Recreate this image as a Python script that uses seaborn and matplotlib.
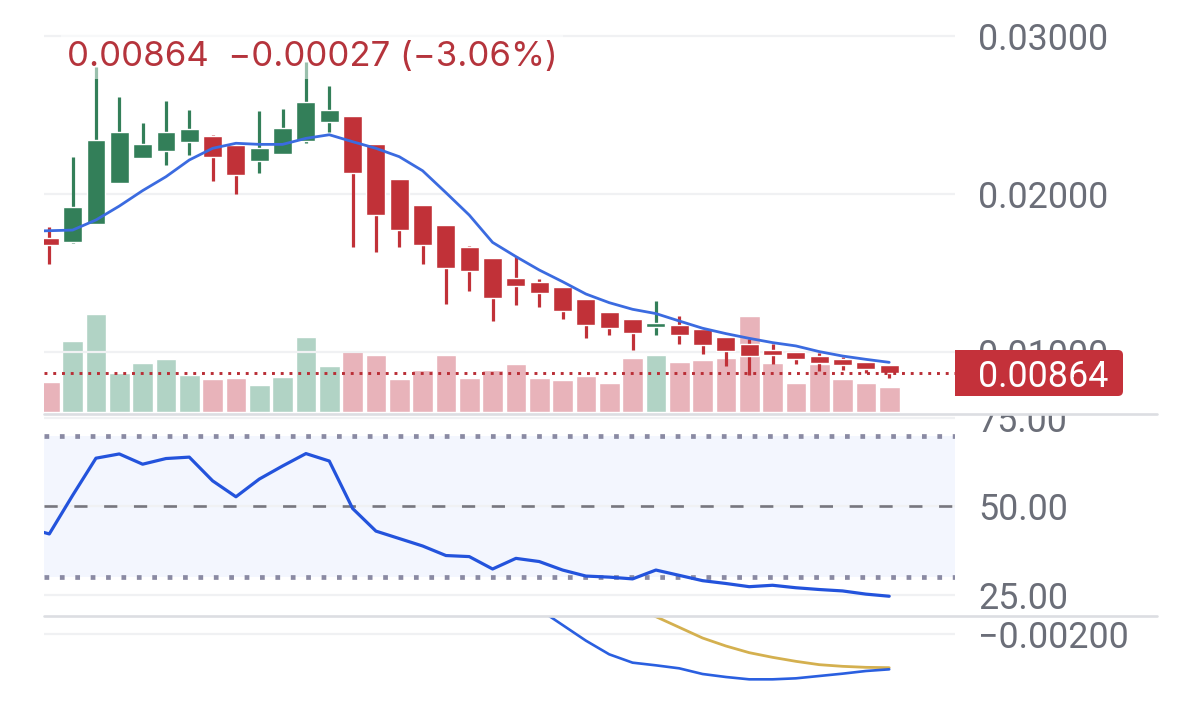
import numpy as np
import pandas as pd
import seaborn as sns
import matplotlib
matplotlib.use("Agg")
import matplotlib.pyplot as plt
from matplotlib.lines import Line2D
from matplotlib.patches import FancyBboxPatch, Rectangle
from matplotlib.transforms import Bbox, IdentityTransform

# ---------- data ----------
opens = [.01723,.01698,.01809,.02071,.02228,.02274,.02331,.02369,.02308,.02211,.02251,.02337,.02458,.02496,.02316,
         .02092,.01932,.01803,.01666,.01592,.01470,.01442,.01413,.01337,.01250,.01206,.01160,.01168,.01142,.01094,
         .01047,.01013,.00997,.00973,.00954,.00933,.00916]
closes = [.01674,.01919,.02342,.02392,.02316,.02392,.02409,.02236,.02118,.02289,.02420,.02582,.02532,.02135,.01866,
          .01771,.01674,.01531,.01514,.01341,.01415,.01375,.01261,.01168,.01151,.01121,.01183,.01104,.01043,.01007,
          .00973,.00978,.00956,.00931,.00914,.00893,.00864]
highs = [.01793,.02236,.02802,.02612,.02452,.02589,.02532,.02373,.02308,.02525,.02538,.02836,.02682,.02496,.02316,
         .02092,.01932,.01803,.01670,.01592,.01607,.01463,.01413,.01337,.01250,.01206,.01320,.01227,.01142,.01094,
         .01079,.01049,.00997,.00994,.00965,.00933,.00916]
lows = [.01554,.01687,.01809,.02071,.02228,.02181,.02247,.02084,.01997,.02130,.02251,.02325,.02394,.01664,.01634,
        .01664,.01554,.01305,.01387,.01197,.01294,.01282,.01208,.01087,.01108,.01013,.01104,.01051,.00988,.00910,
        .00853,.00925,.00921,.00880,.00887,.00868,.00834]
volumes = [88,212,293,115,146,159,110,97,102,80,104,223,138,182,170,98,124,170,102,126,144,101,95,106,85,160,171,150,
           156,161,286,147,85,143,98,85,73]
ma_line = [.01763,.01767,.01771,.01835,.01923,.02021,.02109,.02215,.02289,.02321,.02314,.02314,.02352,.02375,.02331,
           .02289,.02236,.02147,.02008,.01866,.01693,.01603,.01518,.01444,.01366,.01311,.01269,.01242,.01195,.01149,
           .01115,.01085,.01058,.01037,.01001,.00973,.00952,.00933]
rsi_line = [44.0,42.2,53.1,63.6,64.8,61.9,63.5,63.9,57.2,52.7,57.7,61.4,64.9,62.8,49.4,43.0,40.9,38.8,36.1,35.8,32.3,
            35.3,34.4,32.0,30.3,30.0,29.5,32.0,30.5,29.0,28.2,27.3,27.7,27.0,26.5,26.1,25.2,24.6]
dif_line = [-.00126,-.00173,-.00220,-.00261,-.00286,-.00294,-.00303,-.00320,-.00329,-.00336,-.00336,-.00333,-.00326,
            -.00319,-.00311,-.00306]
dea_line = [-.00118,-.00148,-.00180,-.00212,-.00236,-.00256,-.00270,-.00282,-.00292,-.00297,-.00300,-.00301]
price_ticks = [0.01, 0.02, 0.03]
rsi_ticks = [25, 50, 75]
macd_ticks = [-0.002]
last_price = 0.00864
header = "0.00864  \u22120.00027 (\u22123.06%)"

GREEN, RED = "#337f59", "#c13138"
V_GREEN, V_RED = "#b1d3c5", "#e8b3ba"
GRID, LABEL = "#f0f1f3", "#6b6e78"

sns.set_theme(style="white", rc={"axes.axisbelow": "line"})
plt.rcParams["font.family"] = ["Roboto", "DejaVu Sans"]

W, H = 1200, 725
fig = plt.figure(figsize=(W / 100, H / 100), dpi=100, facecolor="white")


def panel(top, bottom, left=44, right=955):
    return fig.add_axes([left / W, 1 - bottom / H, (right - left) / W, (bottom - top) / H])


XLIM = (-0.227, 38.82)
ax_vol = panel(20, 413)
ax = panel(20, 413)
ax_rsi = panel(415, 615)
ax_macd = panel(616, 725)
ax.patch.set_visible(False)
ax_vol.set_zorder(1)
ax.set_zorder(2)

idx = np.arange(len(opens))
is_up = np.array(closes) >= np.array(opens)

# volume
df_vol = pd.DataFrame({"i": idx, "vol": volumes, "dir": np.where(is_up, "up", "down")})
sns.barplot(data=df_vol, x="i", y="vol", hue="dir", palette={"up": V_GREEN, "down": V_RED}, native_scale=True,
            dodge=False, width=0.885, saturation=1, errorbar=None, legend=False, ax=ax_vol)
ax_vol.set_ylim(-4, 1175)
ax_vol.set_axis_off()

# candles
colors = [GREEN if u else RED for u in is_up]
ax.vlines(idx, lows, highs, colors=colors, lw=2.3, zorder=3)
ax.bar(idx, np.abs(np.array(closes) - np.array(opens)), bottom=np.minimum(opens, closes), width=0.81,
       color=colors, zorder=3)
sns.lineplot(x=np.arange(-1, len(opens)), y=ma_line, color="#3b6be0", lw=2.0, ax=ax, zorder=4)
ax.axhline(last_price, color="#b92d35", lw=2.1, ls=(0, (1, 2.0)), zorder=5)
ax.set_ylim(.00612, .03102)
ax.set_yticks(price_ticks, [f"{v:.5f}" for v in price_ticks])

# RSI
ax_rsi.axhspan(30, 70, color="#f3f6fe", lw=0, zorder=1)
ax_rsi.axhline(70, color="#8a8aa3", lw=3.4, ls=(0, (1, 2.26)), zorder=2)
ax_rsi.axhline(30, color="#8a8aa3", lw=3.4, ls=(0, (1, 2.26)), zorder=2)
ax_rsi.axhline(50, color="#77777f", lw=1.9, ls=(0, (5, 6.3)), zorder=2)
sns.lineplot(x=np.arange(-1, len(opens)), y=rsi_line, color="#2353dc", lw=2.3, ax=ax_rsi, zorder=4)
ax_rsi.set_ylim(19.3, 75.8)
ax_rsi.set_yticks(rsi_ticks, [f"{v:.2f}" for v in rsi_ticks])

# MACD
sns.lineplot(x=idx[-len(dea_line):], y=dea_line, color="#d4b04f", lw=2.0, ax=ax_macd, zorder=3)
sns.lineplot(x=idx[-len(dif_line):], y=dif_line, color="#2a5fe0", lw=1.9, ax=ax_macd, zorder=4)
ax_macd.set_ylim(-.00473, -.00146)
ax_macd.set_yticks(macd_ticks, ["\u22120.00200"])

for a in (ax, ax_rsi, ax_macd):
    a.set_xlim(*XLIM)
    a.set_xticks([])
    a.set_xlabel("")
    a.set_ylabel("")
    a.yaxis.tick_right()
    a.tick_params(axis="y", length=0, pad=16.5, labelsize=25.8, labelcolor=LABEL)
    a.grid(True, axis="y", color=GRID, lw=1.6)
    for s in a.spines.values():
        s.set_visible(False)
ax_vol.set_xlim(*XLIM)

# the 75.00 label is cut off by the panel edge
clip = Bbox([[0, 0], [W, H - 415]])
for t in ax_rsi.yaxis.get_major_ticks():
    t.label2.set_clip_box(clip)
    t.label2.set_clip_on(True)

# panel separators
for y in (413.5, 615.5):
    fig.add_artist(Line2D([44 / W, 1157 / W], [1 - y / H] * 2, color="#dcdee2", lw=1.9, zorder=6))

# header with its translucent backing
ax.text(67 / W, 1 - 66 / H, header, transform=fig.transFigure, fontsize=25, color="#b5343c", va="baseline",
        ha="left", zorder=8, family=["Inter", "DejaVu Sans"],
        bbox=dict(facecolor="white", alpha=0.5, edgecolor="none", pad=4))

# last price tag: square on the left, rounded on the right
fig.canvas.draw()
cy = round(ax.transData.transform((0, last_price))[1])
fig.add_artist(FancyBboxPatch((960, cy - 21), 161, 42, boxstyle="round,pad=2,rounding_size=5",
                              transform=IdentityTransform(), facecolor="#c4313a", edgecolor="none", zorder=7,
                              snap=False))
fig.add_artist(Rectangle((955, cy - 23), 30, 46, transform=IdentityTransform(), facecolor="#c4313a",
                         edgecolor="none", zorder=7, snap=False))
fig.text(978 / W, cy / H, f"{last_price:.5f}", color="white", fontsize=25.8, va="center_baseline", ha="left", zorder=8)

fig.savefig("out.png", dpi=100)
